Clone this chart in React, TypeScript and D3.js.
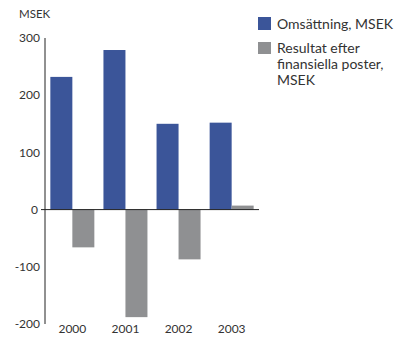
import React from "react";
import * as d3 from "d3";

const years = ["2000", "2001", "2002", "2003"];
const omsattning = [232, 279, 150, 152];
const resultat = [-66, -188, -87, 7];
const yTicks = [300, 200, 100, 0, -100, -200];
const legendLabels = [["Omsättning, MSEK"], ["Resultat efter", "finansiella poster,", "MSEK"]];

const BLUE = "#3b5599";
const GREY = "#8f9092";
const TEXT = "#333333";
const FONT = "Lato, 'Open Sans', sans-serif";

export default function App() {
  const W = 404, H = 337;
  const y = d3.scaleLinear().domain([-200, 300]).range([324, 38]);
  const x = d3.scaleBand().domain(years).range([45, 259]).paddingInner(0.03).paddingOuter(0.03);
  const bw = x.bandwidth();
  const barW = 22;
  const series = [
    { values: omsattning, color: BLUE, off: -barW },
    { values: resultat, color: GREY, off: 0 },
  ];
  return (
    <svg width={W} height={H} style={{ position: "absolute", left: 0, top: 0, background: "#fff" }}
      fontFamily={FONT}>
      <text x={19} y={18} fontSize={11.5} fill={TEXT}>MSEK</text>
      {series.map((s, si) =>
        s.values.map((v, i) => {
          const cx = (x(years[i]) as number) + bw / 2;
          return (
            <rect key={si + "-" + i} x={cx + s.off} width={barW}
              y={y(Math.max(0, v))} height={Math.abs(y(v) - y(0))} fill={s.color} />
          );
        })
      )}
      <line x1={45} x2={45} y1={y(300)} y2={y(-200)} stroke="#222" strokeWidth={1} />
      <line x1={41} x2={259} y1={y(0)} y2={y(0)} stroke="#222" strokeWidth={1} />
      {yTicks.map((t) => (
        <text key={t} x={t === 0 ? 38 : 40} y={y(t)} dy="0.35em" textAnchor="end" fontSize={12} fill={TEXT}>
          {t}
        </text>
      ))}
      {years.map((yr) => (
        <text key={yr} x={(x(yr) as number) + bw / 2} y={333} textAnchor="middle" fontSize={12} fill={TEXT}>
          {yr}
        </text>
      ))}
      <rect x={258} y={17} width={13} height={13} fill={BLUE} />
      <rect x={258} y={42} width={13} height={12} fill={GREY} />
      {legendLabels.map((lines, li) =>
        lines.map((ln, j) => (
          <text key={li + "-" + j} x={277} y={(li === 0 ? 29 : 53) + j * 16} fontSize={14} fill={TEXT}>
            {ln}
          </text>
        ))
      )}
    </svg>
  );
}
